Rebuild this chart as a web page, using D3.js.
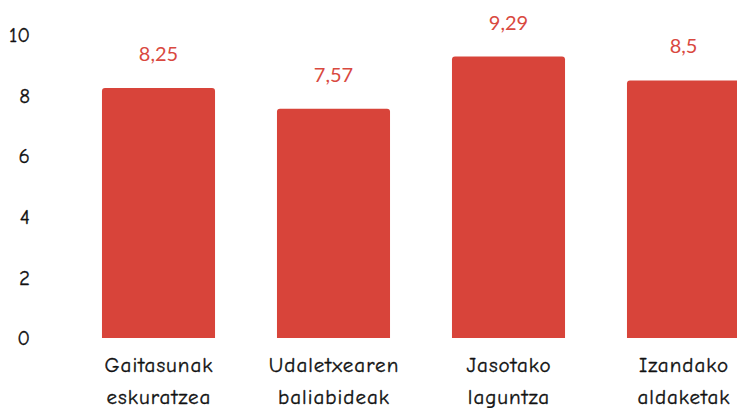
<!DOCTYPE html>
<html>
<head>
<meta charset="utf-8">
<script src="https://cdn.jsdelivr.net/npm/d3@7"></script>
<style>
  body { margin: 0; background: #fff; }
  svg { display: block; }
</style>
</head>
<body>
<svg id="chart" width="737" height="408"></svg>
<script>
var categories = [["Gaitasunak", "eskuratzea"], ["Udaletxearen", "baliabideak"], ["Jasotako", "laguntza"], ["Izandako", "aldaketak"]];
var values = [8.25, 7.57, 9.29, 8.5];
var valueLabels = ["8,25", "7,57", "9,29", "8,5"];
var yTicks = [0, 2, 4, 6, 8, 10];

var barColor = "#d8443a",
    labelFont = "'Comic Neue', 'Comic Sans MS', 'DejaVu Sans', sans-serif",
    spacing = 1;

var svg = d3.select("#chart");

var x = d3.scaleBand()
  .domain(d3.range(values.length))
  .range([71, 771])
  .paddingInner(0.354)
  .paddingOuter(0.177);

var y = d3.scaleLinear()
  .domain([0, 10])
  .range([338, 35]);

// y axis, labels only
var yAxis = svg.append("g")
  .attr("transform", "translate(30,0)")
  .call(d3.axisLeft(y).tickValues(yTicks).tickSize(0).tickPadding(0));
yAxis.select(".domain").remove();
yAxis.selectAll("text")
  .attr("font-family", labelFont)
  .attr("font-size", 21)
  .attr("fill", "#111")
  .attr("stroke", "#111")
  .attr("stroke-width", 0.3);

// bars with rounded top corners
function barPath(i) {
  var x0 = x(i), w = x.bandwidth(), y0 = y(values[i]), y1 = y(0), r = 3;
  return "M" + x0 + "," + y1 +
    "V" + (y0 + r) +
    "Q" + x0 + "," + y0 + " " + (x0 + r) + "," + y0 +
    "H" + (x0 + w - r) +
    "Q" + (x0 + w) + "," + y0 + " " + (x0 + w) + "," + (y0 + r) +
    "V" + y1 + "Z";
}

svg.selectAll(".bar").data(values).enter().append("path")
  .attr("class", "bar")
  .attr("fill", barColor)
  .attr("d", function(d, i) { return barPath(i); });

// value labels
svg.selectAll(".value").data(values).enter().append("text")
  .attr("class", "value")
  .attr("x", function(d, i) { return x(i) + x.bandwidth() / 2; })
  .attr("y", function(d) { return y(d) - 27; })
  .attr("text-anchor", "middle")
  .attr("font-family", "Lato, 'Noto Sans', sans-serif")
  .attr("font-size", 20)
  .attr("fill", "#d9493f")
  .text(function(d, i) { return valueLabels[i]; });

// category labels, two lines each
var cat = svg.selectAll(".cat").data(categories).enter().append("text")
  .attr("class", "cat")
  .attr("text-anchor", "middle")
  .attr("font-family", labelFont)
  .attr("font-size", 21)
  .attr("letter-spacing", spacing)
  .attr("fill", "#111")
  .attr("stroke", "#111")
  .attr("stroke-width", 0.35);

cat.selectAll("tspan").data(function(d, i) { return d.map(function(t) { return {t: t, i: i}; }); })
  .enter().append("tspan")
  .attr("x", function(d) { return x(d.i) + x.bandwidth() / 2 + spacing / 2; })
  .attr("y", function(d, j) { return 372 + j * 32; })
  .text(function(d) { return d.t; });
</script>
</body>
</html>
